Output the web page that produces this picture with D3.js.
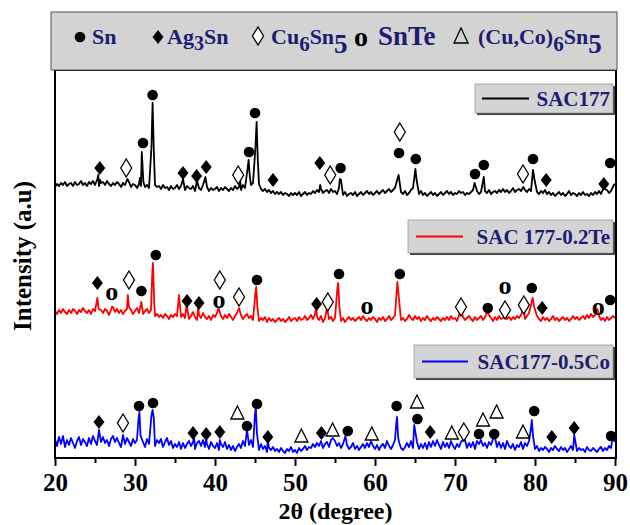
<!DOCTYPE html>
<html>
<head>
<meta charset="utf-8">
<script src="https://cdn.jsdelivr.net/npm/d3@7/dist/d3.min.js"></script>
<style>
  body { margin: 0; background: #fff; }
  svg { display: block; font-family: "Liberation Serif", "Times New Roman", serif; font-weight: bold; }
</style>
</head>
<body>
<div id="chart"></div>
<script>
// 2θ grid of the baseline samples
const thetaStart = 20;
const thetaStep = 0.25;
const xMajorTicks = [20, 30, 40, 50, 60, 70, 80, 90];
const xMinorTicks = [25, 35, 45, 55, 65, 75, 85];

const seriesNames = ['SAC177', 'SAC 177-0.2Te', 'SAC177-0.5Co'];
const seriesColors = ['#000000', '#ff0000', '#0000ff'];
const seriesOffsets = [270, 145, 14]; // vertical stacking (a.u.)

// baseline (noise) read every 0.25 deg, relative to each offset
const blackBase = [
  1,4,2,5, 3,6,2,4, 5,2,6,3, 4,7,3,5, 2,6,4,7, 3,8,2,5, 6,3,7,4, 2,5,3,6, 4,1,5,3, 2,6,1,4,
  3,0,4,2, 5,1,3,0, 2,4,3,1, 2,-1,3,0, 1,-2,2,-1, 0,3,-1,2, 1,-2,2,0, -1,2,-3,1, 0,-2,3,-1, 1,-3,0,-2,
  -1,1,-3,0, -2,1,-1,-3, 0,-2,2,-1, 1,-2,3,0, 2,4,3,5, 6,8,4,-1, -3,-1,-4,-2, -5,-3,-6,-4, -6,-4,-7,-5, -6,-8,-5,-7,
  -5,-7,-4,-8, -6,-4,-7,-5, -6,-3,-5,-2, -4,-1,-5,-3, -2,-5,-1,-4, -3,-6,0,-5, -7,-4,-8,-6, -5,-7,-4,-8, -6,-4,-7,-5, -3,-6,-4,-7,
  -5,-3,-6,-4, -2,-5,-3,-1, -4,-2,0,-3, 2,-4,-6,-3, -7,-5,-2,0, 1,-4,-6,-3, -7,-5,-8,-6, -4,-7,-5,-8, -6,-4,-7,-5, -3,-6,-4,-7,
  -5,-6,-3,-5, -4,-7,-5,-6, -4,-2,-5,-3, -6,-4,-7,-3, -5,-2,-6,-4, -3,-5,-2,-4, -1,-4,-2,-5, -3,0,-4,-2, -1,-3,1,-2, -4,-1,-3,2,
  0,-4,-6,-3, -5,-2,-6,-4, -7,-5,-8,-6, -4,-7,-5,-8, -6,-3,-7,-5, -6,-8,-5,-7, -4,-7,-6,-8, -5,-7,-4,-6, -3,-6,-1,-4, -2,-5,-3,1,
  4
];
const redBase = [
  2,-1,3,0, 4,1,-1,3, 0,4,2,-1, 3,1,5,2, 0,3,-1,4, 2,5,1,3, 0,4,2,-2, 3,6,1,4, 0,3,-1,2, 4,1,3,-1,
  2,5,0,3, -1,2,4,0, 3,1,-3,-1, -4,-2,-5,-1, -3,-6,-2,-4, -1,-3,2,-4, -1,-5,-2,-6, -3,1,-4,-7, -2,-5,0,-4, -6,-3,-7,-2,
  -4,0,2,-3, -6,-2,-5,-1, -4,-7,-3,0, -5,-2,-6,-3, -1,-5,-3,-7, -2,-4,-8,-5, -7,-4,-9,-5, -8,-6,-9,-7, -5,-8,-6,-9, -7,-4,-8,-6,
  -5,-8,-4,-7, -6,-3,-7,-5, -2,-6,-1,-4, -7,-3,-9,-5, -2,-6,-4,-8, -5,-7,-3,-8, -5,-9,-6,-4, -7,-5,-8,-6, -4,-7,-3,-6, -8,-5,-7,-4,
  -6,-9,-5,-7, -4,-8,-6,-3, -7,-5,-2,0, -3,-7,-5,-8, -6,-2,-5,-7, -3,-6,-4,-8, -5,-7,-3,-6, -8,-5,-7,-4, -6,-8,-5,-7, -4,-7,-3,-6,
  -5,-8,-2,-6, -4,-7,-5,-3, -6,-8,-4,-7, -5,-3,-7,-4, -6,-2,-5,-8, -4,-7,-3,-6, -5,-2,-6,-4, -7,-4,-6,-3, -5,-2,-4,-6, -3,0,3,-2,
  -5,-3,-6,-8, -4,-7,-5,-8, -6,-3,-7,-5, -8,-6,-4,-7, -5,-8,-6,-3, -6,-4,-7,-5, -3,-6,-2,-5, -1,-4,-2,-6, -3,-7,-5,-8, -4,-7,-5,-3,
  -5
];
const blueBase = [
  5,-2,7,0, 8,-3,4,-1, 6,1,-4,3, 7,-1,5,2, -2,6,0,8, 3,-1,5,2, 7,1,4,-2, 5,8,2,6, 1,-3,4,0, 6,2,-2,5,
  1,4,-1,6, 2,-3,5,0, 3,7,-2,4, 1,5,-3,2, 6,-1,3,-4, 0,-3,2,-5, 1,-4,0,3, -2,2,-5,1, 3,-2,4,-3, 0,-5,2,-2,
  -4,1,-6,0, -3,2,-5,-1, -6,-2,-7,-3, 0,-4,3,-2, -5,-1,4,-3, 2,-4,-6,0, -5,-2,-8,-4, -6,-3,-7,-5, -8,-4,-7,-9, -5,-7,-3,-8,
  -6,-9,-4,-7, -5,-2,-6,-3, -4,0,-3,1, -2,3,-4,0, 2,-3,4,-1, 3,-2,1,-4, 0,-4,-1,-5, -3,1,-5,-2, -6,-3,0,-4, 1,-3,3,-2,
  -5,-1,-6,-2, 0,-4,3,-2, -5,-1,4,-3, 2,-4,-6,-3, 1,-3,3,-4, -2,2,-5,0, -4,1,-5,2, -3,3,-2,4, -1,-5,2,-3, 1,-4,3,-2,
  -5,0,-3,2, -2,4,-4,1, -3,2,-5,3, 0,4,-2,1, -4,2,-1,5, 0,-3,2,-4, 1,-5,3,-2, -4,0,-6,-1, -3,2,-5,1, -2,3,0,-3,
  -5,-2,-7,-4, -6,-3,-5,-8, -4,-6,-2,-5, -7,-3,-6,-4, -8,-5,-2,-6, -3,-7,-4,-6, -5,-8,-3,-6, -7,-4,-6,-8, -5,-3,-7,-4, -6,-2,-4,1,
  2
];

// diffraction peaks [2θ, intensity above offset]
const blackPeaks = [
  [25.3, 9], [25.4, 13], [25.65, 8], [29.05, 9], [30.6, 10], [30.85, 36], [31.05, 6],
  [32.05, 40], [32.2, 85], [32.35, 38], [36.0, 9], [37.75, 7], [38.8, 11], [43.15, 8],
  [44.05, 18], [44.2, 28], [44.35, 12], [45.05, 40], [45.2, 66], [45.35, 28], [53.15, 3],
  [55.6, 9], [55.75, 8], [62.8, 9], [62.95, 13], [65.05, 19], [65.2, 8], [72.45, 5],
  [73.6, 11], [78.55, 1], [79.75, 18], [79.9, 10], [88.65, -1], [89.85, 3]
];
const redPeaks = [
  [25.3, 15], [25.45, 4], [27.1, 6], [29.1, 18], [29.25, 6], [30.8, 11], [32.15, 38],
  [32.25, 50], [32.4, 10], [35.5, 18], [36.45, 8], [37.9, 6], [40.45, 5], [43.0, 5],
  [45.05, 20], [45.15, 26], [45.3, 6], [52.65, 6], [54.0, 5], [55.3, 25], [55.4, 30],
  [55.55, 6], [62.65, 15], [62.8, 31], [62.95, 18], [70.8, 3], [74.1, 2], [78.6, 5],
  [79.55, 10], [79.7, 15], [79.9, 6], [87.8, 4]
];
const bluePeaks = [
  [25.5, 14], [28.5, 9], [30.45, 26], [30.55, 32], [30.7, 8], [32.05, 28], [32.2, 34],
  [32.35, 26], [37.4, 6], [38.9, 5], [40.6, 4], [44.0, 14], [45.0, 30], [45.1, 37],
  [45.25, 10], [46.6, 5], [54.7, 6], [56.3, 8], [62.65, 20], [62.75, 27], [62.9, 6],
  [64.9, 19], [71.0, 4], [74.9, 10], [79.5, 16], [79.6, 24], [79.75, 8], [84.9, 9], [89.7, 6]
];

// phase labels [symbol, 2θ, level above offset]
const blackMarks = [
  ['ag', 25.6, 20], ['cu', 28.9, 20], ['sn', 31.0, 45], ['sn', 32.2, 93], ['ag', 36.0, 15],
  ['ag', 37.7, 12], ['ag', 38.9, 21], ['cu', 42.9, 13], ['sn', 44.25, 36], ['sn', 45.0, 75],
  ['ag', 47.25, 8], ['ag', 53.1, 25], ['cu', 54.4, 13], ['sn', 55.7, 20], ['cu', 63.1, 56],
  ['sn', 63.0, 35], ['sn', 65.1, 29], ['sn', 72.5, 14], ['sn', 73.6, 23], ['cu', 78.5, 14],
  ['sn', 79.75, 29], ['ag', 81.4, 8], ['ag', 88.6, 4], ['sn', 89.4, 25]
];
const redMarks = [
  ['ag', 25.3, 30], ['te', 27.1, 20], ['cu', 29.25, 33], ['sn', 30.8, 22], ['sn', 32.6, 58],
  ['ag', 36.5, 12], ['ag', 38.0, 10], ['te', 40.5, 12], ['cu', 40.6, 33], ['cu', 43.0, 16],
  ['sn', 45.25, 33], ['ag', 52.7, 9], ['cu', 54.1, 11], ['sn', 55.5, 39], ['te', 59.0, 6],
  ['sn', 63.1, 39], ['cu', 70.75, 6], ['sn', 74.1, 5], ['te', 76.25, 26], ['cu', 76.25, 3],
  ['cu', 78.6, 8], ['sn', 79.6, 25], ['ag', 80.9, 5], ['te', 87.9, 5], ['sn', 89.4, 13]
];
const blueMarks = [
  ['ag', 25.5, 22], ['cu', 28.5, 21], ['sn', 30.5, 38], ['sn', 32.25, 41], ['ag', 37.25, 11],
  ['ag', 38.9, 10], ['ag', 40.6, 12], ['co', 42.8, 31], ['sn', 44.0, 18], ['sn', 45.25, 40],
  ['ag', 46.6, 7], ['co', 50.8, 8], ['ag', 53.3, 11], ['co', 54.7, 14], ['sn', 56.6, 13],
  ['co', 59.6, 10], ['sn', 62.7, 38], ['co', 65.25, 42], ['sn', 65.3, 25], ['ag', 66.9, 12],
  ['co', 69.6, 11], ['cu', 71.1, 12], ['sn', 73.0, 10], ['co', 73.5, 24], ['co', 75.2, 32],
  ['sn', 74.9, 10], ['co', 78.5, 12], ['sn', 79.9, 33], ['ag', 82.1, 7], ['ag', 84.9, 16],
  ['sn', 89.5, 8]
];

const bases = [blackBase, redBase, blueBase];
const peaks = [blackPeaks, redPeaks, bluePeaks];
const marks = [blackMarks, redMarks, blueMarks];

const W = 630, H = 525;
const plot = { left: 55, right: 616, top: 70, bottom: 458 };
const navy = '#1c1c70';

const svg = d3.select('#chart').append('svg').attr('width', W).attr('height', H);

const x = d3.scaleLinear().domain([20, 90]).range([55, 615]);
const y = d3.scaleLinear().domain([0, 390]).range([458, 68]);

// merge baseline samples with the peak points
function buildTrace(base, pk) {
  const pts = base
    .map((v, i) => [thetaStart + i * thetaStep, v])
    .filter(([t]) => !pk.some(([p]) => Math.abs(p - t) < 0.1));
  return pts.concat(pk).sort((a, b) => a[0] - b[0]);
}

svg.append('clipPath').attr('id', 'clip')
  .append('rect')
  .attr('x', plot.left).attr('y', plot.top)
  .attr('width', plot.right - plot.left).attr('height', plot.bottom - plot.top);

const traces = svg.append('g').attr('clip-path', 'url(#clip)');
seriesNames.forEach((name, s) => {
  const line = d3.line()
    .x((d) => x(d[0]))
    .y((d) => y(seriesOffsets[s] + d[1]));
  traces.append('path')
    .datum(buildTrace(bases[s], peaks[s]))
    .attr('fill', 'none')
    .attr('stroke', seriesColors[s])
    .attr('stroke-width', 1.8)
    .attr('stroke-linejoin', 'round')
    .attr('d', line);
});

// marker glyphs
function drawSymbol(g, type, cx, cy) {
  if (type === 'sn') {
    g.append('circle').attr('cx', cx).attr('cy', cy).attr('r', 5.3).attr('fill', '#000');
  } else if (type === 'ag') {
    g.append('path')
      .attr('d', `M${cx},${cy - 7}L${cx + 5.5},${cy}L${cx},${cy + 7}L${cx - 5.5},${cy}Z`)
      .attr('fill', '#000');
  } else if (type === 'cu') {
    g.append('path')
      .attr('d', `M${cx},${cy - 9}L${cx + 5.5},${cy}L${cx},${cy + 9}L${cx - 5.5},${cy}Z`)
      .attr('fill', '#fff').attr('stroke', '#000').attr('stroke-width', 1.3);
  } else if (type === 'co') {
    g.append('path')
      .attr('d', `M${cx},${cy - 7}L${cx + 6.5},${cy + 6}L${cx - 6.5},${cy + 6}Z`)
      .attr('fill', 'none').attr('stroke', '#000').attr('stroke-width', 1.3);
  } else if (type === 'te') {
    g.append('text').attr('x', cx).attr('y', cy + 7)
      .attr('text-anchor', 'middle').attr('font-size', 26).attr('fill', '#000').text('o');
  }
}

const markLayer = svg.append('g');
marks.forEach((list, s) => {
  list.forEach(([type, t, lvl]) => {
    drawSymbol(markLayer, type, x(t), y(seriesOffsets[s] + lvl));
  });
});

// frame
svg.append('rect')
  .attr('x', plot.left).attr('y', plot.top)
  .attr('width', plot.right - plot.left).attr('height', plot.bottom - plot.top)
  .attr('fill', 'none').attr('stroke', '#000').attr('stroke-width', 2);

// x axis
const xAxis = svg.append('g').attr('transform', `translate(0,${plot.bottom})`)
  .call(d3.axisBottom(x).tickValues(xMajorTicks).tickSize(8).tickPadding(7).tickFormat(d3.format('d')));
xAxis.select('.domain').remove();
xAxis.selectAll('line').attr('stroke-width', 2);
xAxis.selectAll('text')
  .attr('font-size', 25).attr('font-family', '"Liberation Serif", serif')
  .attr('font-weight', 'bold').attr('fill', '#000');

const xMinor = svg.append('g').attr('transform', `translate(0,${plot.bottom})`)
  .call(d3.axisBottom(x).tickValues(xMinorTicks).tickSize(5).tickFormat(''));
xMinor.select('.domain').remove();
xMinor.selectAll('line').attr('stroke-width', 2);

svg.append('text')
  .attr('x', (plot.left + plot.right) / 2).attr('y', 519)
  .attr('text-anchor', 'middle').attr('font-size', 24).text('2θ (degree)');

svg.append('text')
  .attr('transform', 'translate(31,256) rotate(-90)')
  .attr('text-anchor', 'middle').attr('font-size', 25).text('Intensity (a.u)');

// phase legend on top
const leg = svg.append('g');
leg.append('rect')
  .attr('x', 51).attr('y', 12).attr('width', 566).attr('height', 58)
  .attr('fill', '#d3d3d3').attr('stroke', '#555').attr('stroke-width', 1);

drawSymbol(leg, 'sn', 80, 37);
leg.append('text').attr('x', 92).attr('y', 44).attr('font-size', 22).attr('fill', navy).text('Sn');

drawSymbol(leg, 'ag', 158, 37);
const agText = leg.append('text').attr('x', 167).attr('y', 44).attr('font-size', 22).attr('fill', navy);
agText.append('tspan').text('Ag');
agText.append('tspan').attr('y', 50).attr('font-size', 20).text('3');
agText.append('tspan').attr('y', 44).text('Sn');

drawSymbol(leg, 'cu', 258, 36);
const cuText = leg.append('text').attr('x', 271).attr('y', 44).attr('font-size', 22).attr('fill', navy);
cuText.append('tspan').text('Cu');
cuText.append('tspan').attr('y', 51).attr('font-size', 21).text('6');
cuText.append('tspan').attr('y', 44).text('Sn');
cuText.append('tspan').attr('y', 53).attr('font-size', 27).text('5');

leg.append('text').attr('x', 361).attr('y', 46).attr('text-anchor', 'middle')
  .attr('font-size', 28).attr('fill', '#000').text('o');
leg.append('text').attr('x', 378).attr('y', 45).attr('font-size', 27).attr('fill', navy).text('SnTe');

leg.append('path')
  .attr('d', 'M461,28L468,43L454,43Z')
  .attr('fill', 'none').attr('stroke', '#000').attr('stroke-width', 1.3);
const coText = leg.append('text').attr('x', 478).attr('y', 44).attr('font-size', 22).attr('fill', navy);
coText.append('tspan').text('(Cu,Co)');
coText.append('tspan').attr('y', 51).attr('font-size', 21).text('6');
coText.append('tspan').attr('y', 44).text('Sn');
coText.append('tspan').attr('y', 53).attr('font-size', 27).text('5');

// series labels (button-like boxes)
const seriesBoxes = [
  { x0: 475, y0: 84, y1: 113, lx0: 482, lx1: 529 },
  { x0: 408, y0: 220, y1: 253, lx0: 416, lx1: 463 },
  { x0: 414, y0: 345, y1: 378, lx0: 422, lx1: 468 }
];
seriesNames.forEach((name, s) => {
  const b = seriesBoxes[s];
  const g = svg.append('g');
  g.append('rect').attr('x', b.x0 + 2).attr('y', b.y0 + 2)
    .attr('width', 613 - b.x0).attr('height', b.y1 - b.y0).attr('fill', '#3a3a3a');
  g.append('rect').attr('x', b.x0).attr('y', b.y0)
    .attr('width', 613 - b.x0).attr('height', b.y1 - b.y0)
    .attr('fill', '#d4d4d4').attr('stroke', '#9a9a9a').attr('stroke-width', 0.8);
  const ym = (b.y0 + b.y1) / 2;
  g.append('line').attr('x1', b.lx0).attr('x2', b.lx1).attr('y1', ym).attr('y2', ym)
    .attr('stroke', seriesColors[s]).attr('stroke-width', 2);
  g.append('text').attr('x', 610).attr('y', ym + 7.5).attr('text-anchor', 'end')
    .attr('font-size', 21).attr('fill', navy).text(name);
});
</script>
</body>
</html>
